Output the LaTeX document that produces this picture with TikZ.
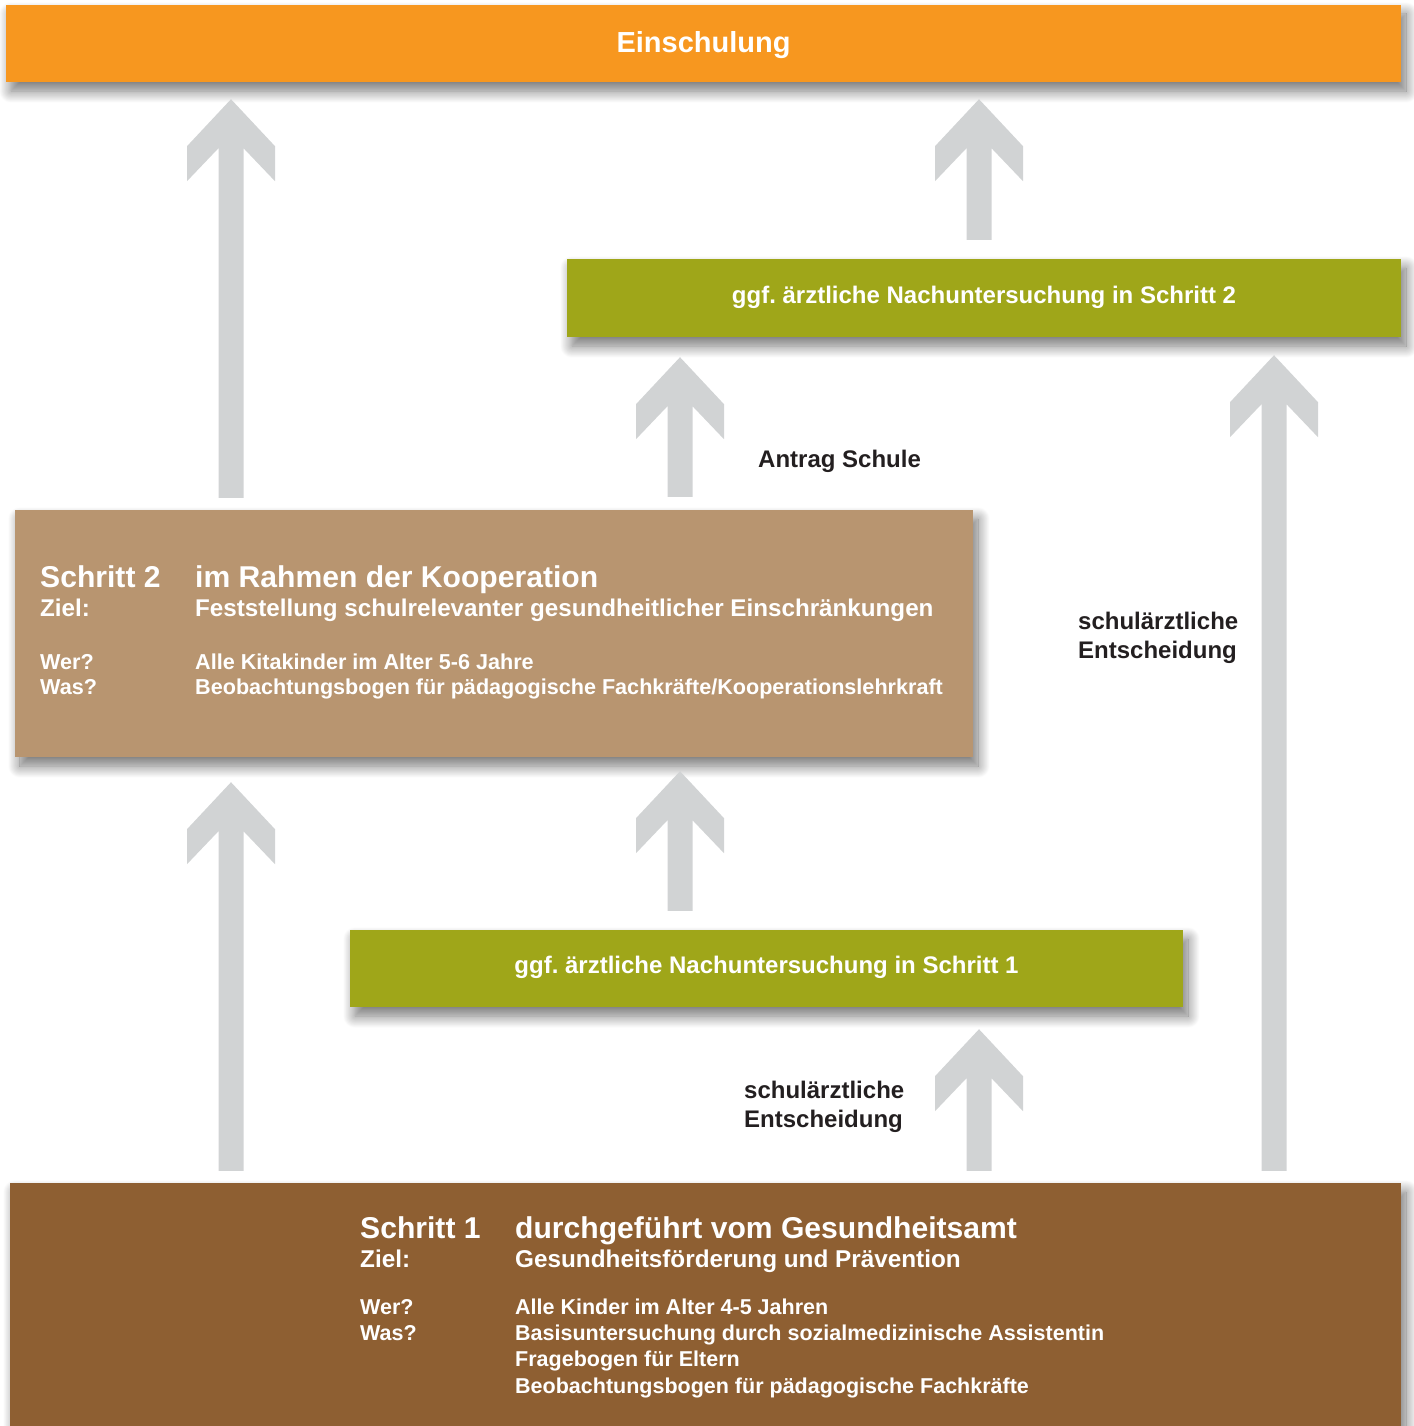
\documentclass[tikz,border=0pt]{standalone}
\usepackage{fontspec}
\setmainfont{Liberation Sans}
\frenchspacing
\usetikzlibrary{calc,shadows.blur}
\definecolor{orangeC}{HTML}{F7971F}
\definecolor{greenC}{HTML}{9FA619}
\definecolor{tanC}{HTML}{B89570}
\definecolor{brownC}{HTML}{8E5F32}
\definecolor{arrowC}{HTML}{D1D3D4}
\definecolor{darkC}{HTML}{231F20}
\newcommand\fsz[1]{\bfseries\fontsize{#1}{#1}\selectfont}
\newcommand\fatarrow[5]{%
  \fill[arrowC] let \p1=(#2), \p2=(#4) in
    (#1pt,\y2-#5pt) -- (#1pt+44pt,\y2-#5pt-47pt) -- (#1pt+44pt,\y2-#5pt-82pt)
    -- (#1pt+12.5pt,\y2-#5pt-49pt) -- (#1pt+12.5pt,\y1+#3pt) -- (#1pt-12.5pt,\y1+#3pt)
    -- (#1pt-12.5pt,\y2-#5pt-49pt) -- (#1pt-44pt,\y2-#5pt-82pt) -- (#1pt-44pt,\y2-#5pt-47pt) -- cycle;}
\tikzset{
  box/.style={fill=#1, draw=none, inner sep=0pt, text=white,
    blur shadow={shadow xshift=5pt, shadow yshift=-9pt, shadow blur radius=12pt, shadow blur steps=16, shadow opacity=55}},
  txt/.style={anchor=base west, inner sep=0pt, text=white, font=\fsz{#1}},
  lbl/.style={anchor=base west, inner sep=0pt, text=darkC, font=\fsz{24}, align=left},
}
\begin{document}
\begin{tikzpicture}[x=1pt,y=-1pt]
\useasboundingbox (0,0) rectangle (1413,1426);
% boxes
\node[box=orangeC, minimum width=1395pt, minimum height=77pt, font=\fsz{29}, text height=18pt, text depth=0pt] (top) at (703.5,43.5) {Einschulung};
\node[box=greenC, minimum width=834pt, minimum height=78pt, font=\fsz{24}, text height=10pt, text depth=0pt] (g2) at (984,298) {ggf. ärztliche Nachuntersuchung in Schritt 2};
\node[box=tanC, minimum width=958pt, minimum height=247pt] (s2) at (494,633.5) {};
\node[box=greenC, minimum width=833pt, minimum height=77pt, font=\fsz{24}, text height=10pt, text depth=0pt] (g1) at (766.5,968.5) {ggf. ärztliche Nachuntersuchung in Schritt 1};
\node[box=brownC, minimum width=1391pt, minimum height=260pt] (s1) at (705.5,1313) {};
% Schritt 2 text
\node[txt=30.1] (s2a) at (40,587) {Schritt 2};
\node[txt=30.1] (s2b) at (195,587) {im Rahmen der Kooperation};
\node[txt=24.2] (s2c) at (40,616) {Ziel:};
\node[txt=24.2] (s2d) at (195,616) {Feststellung schulrelevanter gesundheitlicher Einschränkungen};
\node[txt=21.6] (s2e) at (40,669) {Wer?};
\node[txt=21.6] (s2f) at (195,669) {Alle Kitakinder im Alter 5-6 Jahre};
\node[txt=21.6] (s2g) at (40,694) {Was?};
\node[txt=21.6] (s2h) at (195,694) {Beobachtungsbogen für pädagogische Fachkräfte/Kooperationslehrkraft};
% Schritt 1 text
\node[txt=30.1] (s1a) at (360,1238) {Schritt 1};
\node[txt=30.1] (s1b) at (515,1238) {durchgeführt vom Gesundheitsamt};
\node[txt=24.3] (s1c) at (360,1267) {Ziel:};
\node[txt=24.3] (s1d) at (515,1267) {Gesundheitsförderung und Prävention};
\node[txt=21.5] (s1e) at (360,1314) {Wer?};
\node[txt=21.5] (s1f) at (515,1314) {Alle Kinder im Alter 4-5 Jahren};
\node[txt=21.5] (s1g) at (360,1340) {Was?};
\node[txt=21.5] (s1h) at (515,1340) {Basisuntersuchung durch sozialmedizinische Assistentin};
\node[txt=21.5] (s1i) at (515,1366) {Fragebogen für Eltern};
\node[txt=21.5] (s1j) at (515,1393) {Beobachtungsbogen für pädagogische Fachkräfte};
% labels
\node[lbl] (l1) at (758,467) {Antrag Schule};
\node[lbl] (l2) at (1078,629) {schulärztliche};
\node[lbl] (l3) at (1078,658) {Entscheidung};
\node[lbl] (l4) at (744,1098) {schulärztliche};
\node[lbl] (l5) at (744,1127) {Entscheidung};
% arrows
\fatarrow{231}{s2.north}{12}{top.south}{17}
\fatarrow{979}{g2.north}{19}{top.south}{17}
\fatarrow{680}{s2.north}{13}{g2.south}{20}
\fatarrow{1274}{s1.north}{12}{g2.south}{18}
\fatarrow{231}{s1.north}{12}{s2.south}{25}
\fatarrow{680}{g1.north}{19}{s2.south}{14}
\fatarrow{979}{s1.north}{12}{g1.south}{22}
\end{tikzpicture}
\end{document}
